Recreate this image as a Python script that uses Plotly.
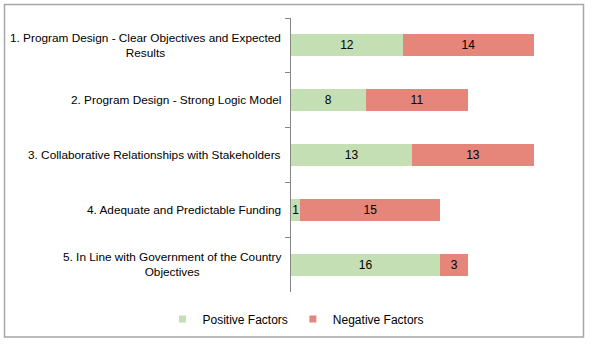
import plotly.graph_objects as go

categories = [
    "1. Program Design - Clear Objectives and Expected<br>Results",
    "2. Program Design - Strong Logic Model",
    "3. Collaborative Relationships with Stakeholders",
    "4. Adequate and Predictable Funding",
    "5. In Line with Government of the Country<br>Objectives",
]
positive = [12, 8, 13, 1, 16]
negative = [14, 11, 13, 15, 3]
series_names = ["Positive Factors", "Negative Factors"]
colors = ["#C4DFB3", "#E6857A"]

FONT = "Liberation Sans, Arial, sans-serif"
W, H = 609, 345
L, R, T, B = 291, 38, 18, 53
pw, ph = W - L - R, H - T - B

def px_to_paper_x(px):
    return (px - L) / pw

def px_to_paper_y(py):
    return (H - B - py) / ph

fig = go.Figure()
for name, vals, col in zip(series_names, [positive, negative], colors):
    fig.add_trace(go.Bar(
        y=categories, x=vals, orientation="h", name=name,
        marker=dict(color=col, line=dict(width=0)),
        text=[str(v) for v in vals], textposition="inside",
        insidetextanchor="middle", constraintext="none",
        textfont=dict(family=FONT, size=12, color="black"),
        showlegend=False, hoverinfo="x+name",
    ))
for name, col in zip(series_names, colors):
    fig.add_trace(go.Scatter(
        x=[None], y=[None], mode="markers", name=name,
        marker=dict(symbol="square", size=7, color=col),
        showlegend=True,
    ))

for c in categories:
    fig.add_annotation(
        x=0, y=c, xref="paper", yref="y", text=c, showarrow=False,
        xanchor="right", yanchor="middle", align="center", xshift=-8,
        font=dict(family=FONT, size=11.8, color="black"),
    )

fig.add_shape(
    type="rect", xref="paper", yref="paper",
    x0=px_to_paper_x(4.5), x1=px_to_paper_x(583.5),
    y0=px_to_paper_y(337), y1=px_to_paper_y(4.5),
    line=dict(color="#A6A6A6", width=1.5), fillcolor="rgba(0,0,0,0)", layer="below",
)

fig.update_layout(
    width=W, height=H, barmode="stack", bargap=0.6,
    margin=dict(l=L, r=R, t=T, b=B, pad=0),
    paper_bgcolor="white", plot_bgcolor="white",
    font=dict(family=FONT, size=12, color="black"),
    legend=dict(
        orientation="h", x=px_to_paper_x(296), xanchor="center",
        y=px_to_paper_y(319), yanchor="middle", traceorder="normal",
        font=dict(family=FONT, size=12, color="black"),
        itemwidth=30, tracegroupgap=0, bgcolor="rgba(0,0,0,0)",
    ),
    xaxis=dict(range=[0, 30], visible=False, fixedrange=True),
    yaxis=dict(
        type="category", autorange="reversed", showticklabels=False,
        showline=True, linecolor="#868686", linewidth=1,
        ticks="outside", tickson="boundaries", ticklen=5, tickcolor="#868686",
        showgrid=False, zeroline=False, fixedrange=True,
    ),
)

fig.write_html("out.html")
